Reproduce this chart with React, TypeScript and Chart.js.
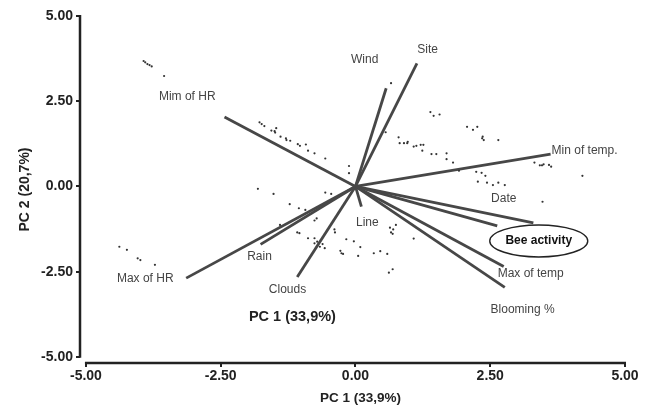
import React, { useEffect, useRef } from "react";
import { Chart, registerables } from "chart.js";

Chart.register(...registerables);

// Variable loadings (biplot vectors), in PC units
const variables = [
  "Mim of HR", "Wind", "Site", "Min of temp.", "Date", "Bee activity",
  "Max of temp", "Blooming %", "Line", "Clouds", "Rain", "Max of HR",
];
const loadingPC1 = [-2.43, 0.57, 1.14, 3.62, 2.63, 3.30, 2.75, 2.77, 0.11, -1.08, -1.76, -3.14];
const loadingPC2 = [2.04, 2.88, 3.61, 0.95, -1.16, -1.07, -2.35, -2.96, -0.59, -2.66, -1.70, -2.69];

// Where each variable's name sits (PC units)
const labelPC1 = [-3.12, 0.17, 1.34, 4.25, 2.75, 3.40, 3.25, 3.10, 0.22, -1.26, -1.78, -3.90];
const labelPC2 = [2.62, 3.71, 4.00, 1.04, -0.37, -1.60, -2.57, -3.62, -1.07, -3.04, -2.07, -2.71];

// Observation scores
const scorePC1 = [
  -3.93, -3.90, -3.86, -3.82, -3.78, -3.55,
  -1.78, -1.74, -1.69, -1.56, -1.50, -1.47, -1.49, -1.39, -1.29, -1.28, -1.21, -1.07, -1.03, -0.92, -0.88, -0.76, -0.56, -0.12, -0.12,
  -1.81, -1.52, -0.56, -0.45,
  0.56, 0.66, 1.39, 1.45, 1.56, 0.80, 0.82, 0.90, 0.96, 0.97, 1.08, 1.13, 1.21, 1.26, 1.24, 1.41, 1.50, 1.69, 1.69, 1.81, 1.92,
  2.07, 2.18, 2.26, 2.36, 2.35, 2.38, 2.65, 2.24, 2.34, 2.41, 2.27, 2.44, 2.55, 2.65, 2.77,
  3.32, 3.42, 3.46, 3.49, 3.59, 3.63, 4.21, 3.47,
  -1.22, -1.05, -0.93, -1.40, -1.08, -1.04, -0.88, -0.76, -0.76, -0.72, -0.76, -0.71, -0.66, -0.61, -0.57,
  -0.39, -0.38, -0.17, -0.03, 0.09, -0.28, -0.26, -0.23, 0.05, 0.34, 0.46, 0.59, 0.62, 0.69,
  0.64, 0.70, 0.75, 0.66, 0.69, 1.08,
  -4.38, -4.24, -4.04, -3.99, -3.72,
];
const scorePC2 = [
  3.68, 3.64, 3.59, 3.56, 3.52, 3.24,
  1.88, 1.83, 1.77, 1.64, 1.62, 1.71, 1.58, 1.46, 1.41, 1.36, 1.34, 1.24, 1.19, 1.23, 1.05, 0.97, 0.82, 0.60, 0.39,
  -0.07, -0.22, -0.18, -0.22,
  1.59, 3.03, 2.18, 2.07, 2.11, 1.44, 1.27, 1.27, 1.27, 1.31, 1.17, 1.19, 1.22, 1.22, 1.05, 0.95, 0.95, 0.97, 0.80, 0.70, 0.46,
  1.75, 1.66, 1.75, 1.46, 1.41, 1.36, 1.36, 0.43, 0.40, 0.31, 0.14, 0.11, 0.04, 0.11, 0.04,
  0.70, 0.62, 0.62, 0.65, 0.63, 0.58, 0.31, -0.45,
  -0.52, -0.64, -0.69, -1.13, -1.35, -1.37, -1.52, -1.52, -1.00, -0.94, -1.67, -1.62, -1.77, -1.69, -1.81,
  -1.26, -1.35, -1.55, -1.61, -1.78, -1.89, -1.96, -1.98, -2.04, -1.96, -1.90, -1.98, -2.53, -2.43,
  -1.21, -1.26, -1.13, -1.35, -1.39, -1.53,
  -1.77, -1.86, -2.11, -2.16, -2.30,
];

const tickValues = [-5, -2.5, 0, 2.5, 5];
const xTitle = "PC 1 (33,9%)";
const yTitle = "PC 2 (20,7%)";
const innerTitlePos = [-1.17, -3.83];
const highlighted = "Bee activity";

const FAMILY = '"Liberation Sans", Arial, sans-serif';
const LABEL_FONT = `12px ${FAMILY}`;

const annotatePlugin = {
  id: "annotate",
  afterDraw(chart: any) {
    const { ctx, chartArea, scales } = chart;
    const x = scales.x;
    const y = scales.y;
    ctx.save();
    // detached axis lines
    ctx.strokeStyle = "#222";
    ctx.lineWidth = 2.5;
    ctx.beginPath();
    ctx.moveTo(chartArea.left, y.getPixelForValue(5) - 1);
    ctx.lineTo(chartArea.left, y.getPixelForValue(-5) + 1);
    ctx.moveTo(x.getPixelForValue(-5) - 1, chartArea.bottom);
    ctx.lineTo(x.getPixelForValue(5) + 1, chartArea.bottom);
    ctx.stroke();

    // variable labels
    ctx.textAlign = "center";
    ctx.textBaseline = "middle";
    variables.forEach((name, i) => {
      const px = x.getPixelForValue(labelPC1[i]);
      const py = y.getPixelForValue(labelPC2[i]);
      if (name === highlighted) {
        ctx.font = `bold 12px ${FAMILY}`;
        ctx.fillStyle = "#111";
        ctx.fillText(name, px, py);
        ctx.beginPath();
        ctx.ellipse(px, py, 49, 16, 0, 0, Math.PI * 2);
        ctx.lineWidth = 1.4;
        ctx.strokeStyle = "#222";
        ctx.stroke();
      } else {
        ctx.font = LABEL_FONT;
        ctx.fillStyle = "#444";
        ctx.fillText(name, px, py);
      }
    });

    // inner axis caption
    ctx.font = `bold 14.5px ${FAMILY}`;
    ctx.fillStyle = "#222";
    ctx.fillText(xTitle, x.getPixelForValue(innerTitlePos[0]), y.getPixelForValue(innerTitlePos[1]));

    // bottom axis title
    ctx.font = `bold 13.5px ${FAMILY}`;
    ctx.fillText(xTitle, x.getPixelForValue(0) + 5, x.bottom - 10);
    ctx.restore();
  },
};

export default function App() {
  const canvasRef = useRef<HTMLCanvasElement>(null);

  useEffect(() => {
    const canvas = canvasRef.current;
    if (!canvas) return;

    const vectorSets = variables.map((name, i) => ({
      type: "line" as const,
      label: name,
      data: [
        { x: 0, y: 0 },
        { x: loadingPC1[i], y: loadingPC2[i] },
      ],
      borderColor: "#474747",
      borderWidth: 2.8,
      pointRadius: 0,
      showLine: true,
      fill: false,
    }));

    const scores = {
      type: "scatter" as const,
      label: "scores",
      data: scorePC1.map((v, i) => ({ x: v, y: scorePC2[i] })),
      backgroundColor: "#333",
      borderWidth: 0,
      pointRadius: 1.1,
    };

    const tickFont = { family: FAMILY, size: 14, weight: "bold" as const };

    const chart = new Chart(canvas, {
      type: "scatter",
      data: { datasets: [scores as any, ...(vectorSets as any)] },
      options: {
        animation: false,
        responsive: false,
        devicePixelRatio: 1,
        layout: { padding: { left: 0, top: 16, right: 20, bottom: 0 } },
        plugins: {
          legend: { display: false },
          tooltip: { enabled: false },
        },
        scales: {
          x: {
            type: "linear",
            min: -5.11,
            max: 5,
            afterBuildTicks: (s: any) => {
              s.ticks = tickValues.map((v) => ({ value: v }));
            },
            afterFit: (s: any) => {
              s.height = 45;
            },
            border: { display: false },
            grid: { drawOnChartArea: false, color: "#222", tickLength: 4, lineWidth: 2 },
            ticks: {
              color: "#222",
              font: tickFont,
              padding: 1,
              maxRotation: 0,
              callback: (v: any) => Number(v).toFixed(2),
            },
            title: { display: false },
          },
          y: {
            type: "linear",
            min: -5.18,
            max: 5,
            afterBuildTicks: (s: any) => {
              s.ticks = tickValues.map((v) => ({ value: v }));
            },
            afterFit: (s: any) => {
              s.width = 80;
            },
            border: { display: false },
            grid: { drawOnChartArea: false, color: "#222", tickLength: 4, lineWidth: 2 },
            ticks: {
              color: "#222",
              font: tickFont,
              padding: 3,
              callback: (v: any) => Number(v).toFixed(2),
            },
            title: {
              display: true,
              text: yTitle,
              color: "#222",
              font: tickFont,
              padding: { top: 17, bottom: 0 },
            },
          },
        },
      },
      plugins: [annotatePlugin],
    });

    return () => chart.destroy();
  }, []);

  return (
    <div style={{ position: "absolute", left: 0, top: 0, width: 645, height: 408, background: "#fff" }}>
      <canvas ref={canvasRef} width={645} height={408} style={{ width: 645, height: 408, display: "block" }} />
    </div>
  );
}
